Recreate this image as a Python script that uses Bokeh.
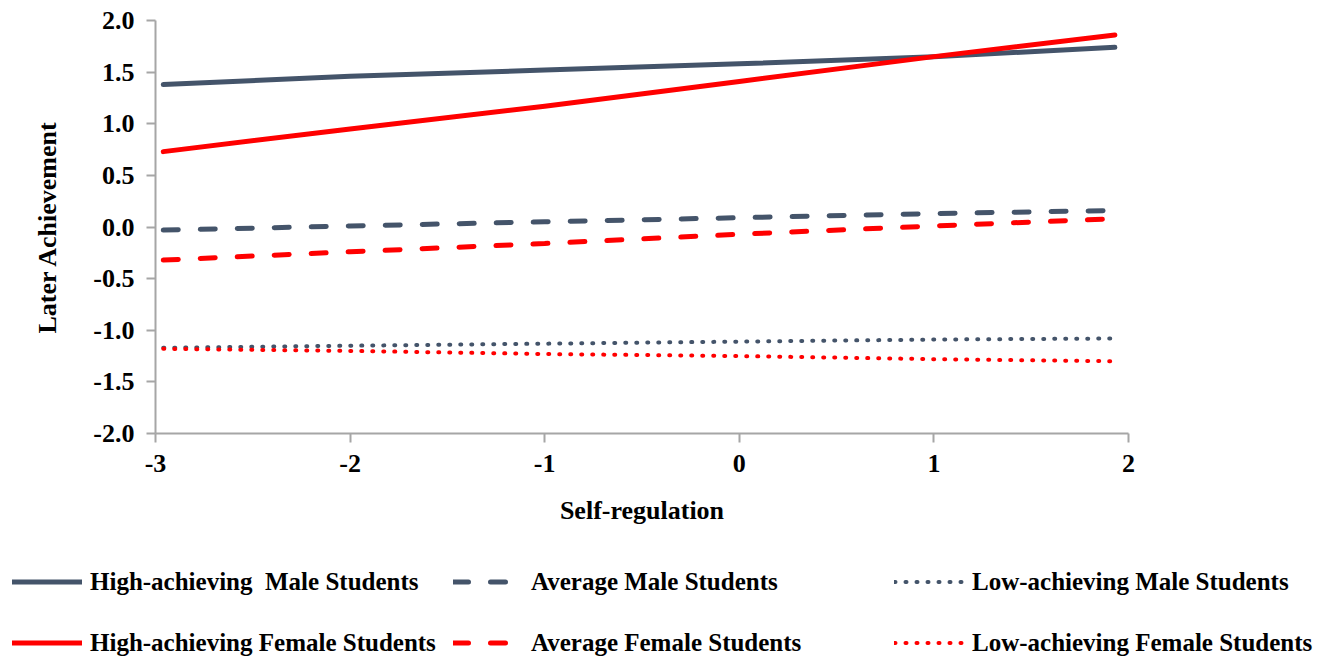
from bokeh.plotting import figure
from bokeh.layouts import column
from bokeh.models import Range1d, FixedTicker, Legend, LegendItem, CustomJSTickFormatter
from bokeh.embed import file_html
from bokeh.resources import INLINE

# ---- data ----
x = [-2.96, -2.0, -1.0, 0.0, 1.0, 1.93]
high_male = [1.38, 1.46, 1.52, 1.58, 1.65, 1.74]
avg_male = [-0.03, 0.01, 0.05, 0.09, 0.13, 0.16]
low_male = [-1.17, -1.15, -1.13, -1.11, -1.09, -1.08]
high_female = [0.73, 0.95, 1.17, 1.41, 1.65, 1.86]
avg_female = [-0.32, -0.24, -0.16, -0.07, 0.01, 0.08]
low_female = [-1.18, -1.20, -1.23, -1.25, -1.28, -1.30]

x_ticks = [-3, -2, -1, 0, 1, 2]
y_ticks = [-2.0, -1.5, -1.0, -0.5, 0.0, 0.5, 1.0, 1.5, 2.0]

labels = ["High-achieving  Male Students", "Average Male Students", "Low-achieving Male Students",
          "High-achieving Female Students", "Average Female Students", "Low-achieving Female Students"]

SLATE = "#44546A"
RED = "#FF0000"
AXIS = "#A6A6A6"
FONT = "Liberation Serif"

W = 1333
p = figure(width=W, height=540, output_backend="svg", toolbar_location=None,
           x_range=Range1d(-3, 2), y_range=Range1d(-2, 2),
           min_border_left=155, min_border_right=W - 1128, min_border_top=20, min_border_bottom=107)
p.outline_line_color = None
p.grid.visible = False
p.background_fill_color = "white"
p.border_fill_color = "white"
p.frame_align = False

solid = dict(line_width=5, line_cap="round", line_join="round")
dashed = dict(line_width=5, line_cap="round", line_dash="15 22")
dotted = dict(line_width=4, line_cap="round", line_dash="1 10")
styles = [(SLATE, solid), (SLATE, dashed), (SLATE, dotted), (RED, solid), (RED, dashed), (RED, dotted)]
series = [high_male, avg_male, low_male, high_female, avg_female, low_female]

for (c, st), ys in zip(styles, series):
    p.line(x, ys, line_color=c, **st)

for ax in (p.xaxis[0], p.yaxis[0]):
    ax.axis_line_color = AXIS
    ax.axis_line_width = 2
    ax.major_tick_line_color = AXIS
    ax.major_tick_line_width = 2
    ax.minor_tick_line_color = None
    ax.major_tick_in = 0
    ax.major_tick_out = 9
    ax.major_label_text_font = FONT
    ax.major_label_text_font_style = "bold"
    ax.major_label_text_font_size = "26px"
    ax.major_label_text_color = "black"
    ax.axis_label_text_font = FONT
    ax.axis_label_text_font_style = "bold"
    ax.axis_label_text_font_size = "26px"
    ax.axis_label_text_color = "black"

p.xaxis.ticker = FixedTicker(ticks=x_ticks)
p.yaxis.ticker = FixedTicker(ticks=y_ticks)
p.yaxis.formatter = CustomJSTickFormatter(code="return tick.toFixed(1);")
p.xaxis.formatter = CustomJSTickFormatter(code="return tick.toFixed(0);")
p.xaxis.axis_label = "Self-regulation"
p.yaxis.axis_label = "Later Achievement"
p.xaxis.major_label_standoff = 12
p.xaxis.axis_label_standoff = 21
p.yaxis.major_label_standoff = 12
p.yaxis.axis_label_standoff = 28

# ---- legend strip below (legend-only renderers carry no visible data) ----
lg = figure(width=W, height=119, output_backend="svg", toolbar_location=None,
            x_range=Range1d(0, 1), y_range=Range1d(0, 1),
            min_border_left=0, min_border_right=0, min_border_top=0, min_border_bottom=0)
lg.axis.visible = False
lg.grid.visible = False
lg.outline_line_color = None
lg.frame_align = False
nan = float("nan")
dummy = [lg.line([nan], [nan], line_color=c, **st) for c, st in styles]
legend = Legend(items=[LegendItem(label=l, renderers=[r]) for l, r in zip(labels, dummy)],
                location=(12, -10), orientation="horizontal", ncols=3,
                glyph_width=70, glyph_height=53, label_standoff=8,
                label_width=355, label_height=53, spacing=8, padding=0, margin=0,
                border_line_color=None, background_fill_alpha=0,
                label_text_font=FONT, label_text_font_style="bold",
                label_text_font_size="25px", label_text_color="black")
lg.add_layout(legend, "center")

layout = column(p, lg, spacing=0)
open("out.html", "w").write(file_html(layout, INLINE))
